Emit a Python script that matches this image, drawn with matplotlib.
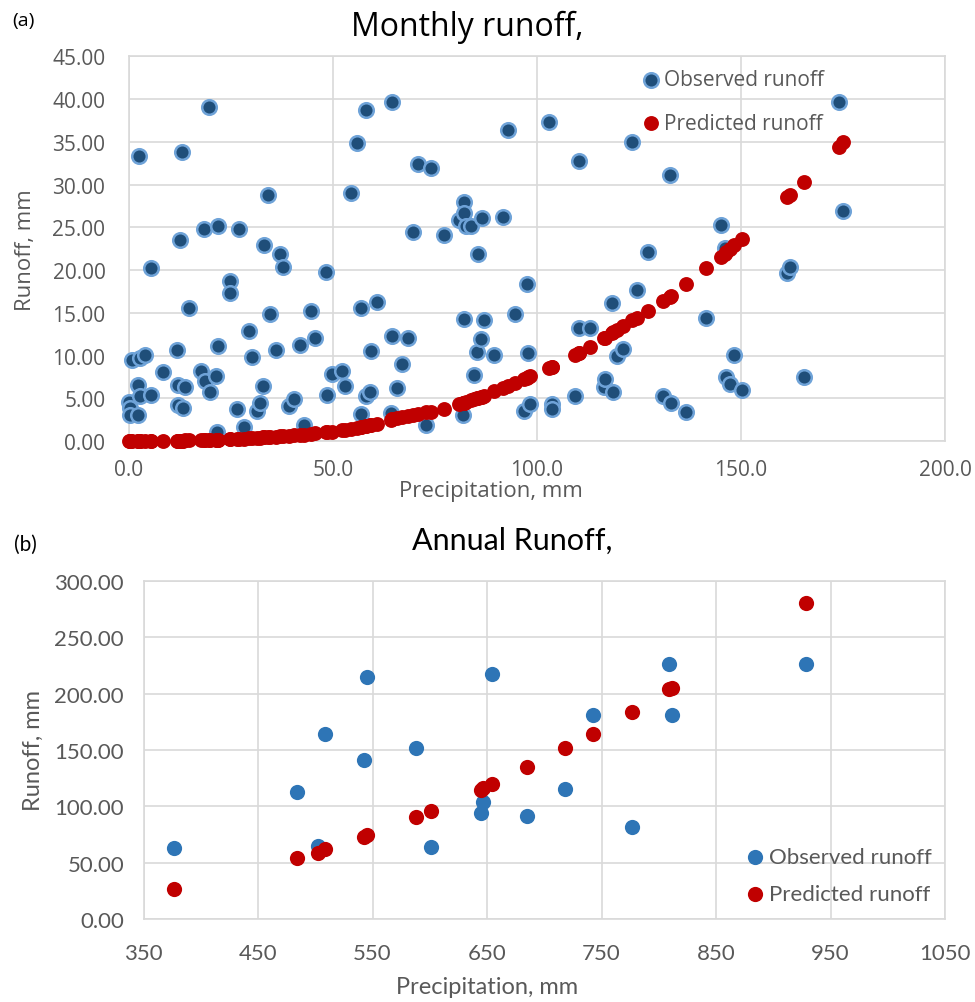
import matplotlib
matplotlib.use("Agg")
import matplotlib.pyplot as plt
from matplotlib import font_manager
from matplotlib.ticker import FormatStrFormatter, MultipleLocator

# ---------------- data ----------------
# Monthly values (precipitation, observed and model-predicted runoff), mm
monthly_precip = [
    0.0, 0.25, 0.25, 2.1, 0.8, 2.7, 3.9, 2.3, 2.7, 2.5,
    5.3, 5.4, 8.3, 11.8, 12.6, 13.1, 12.1, 13.8, 12.1, 13.3,
    14.8, 17.7, 18.7, 19.9, 21.4, 19.5, 18.5, 21.8, 21.9, 21.5,
    24.8, 24.8, 27.0, 26.5, 28.1, 29.3, 30.1, 31.4, 32.2, 32.8,
    33.2, 34.1, 34.6, 36.1, 37.1, 37.8, 39.3, 40.4, 42.0, 42.8,
    44.5, 45.5, 48.2, 48.6, 49.8, 52.3, 52.9, 54.4, 55.8, 56.8,
    56.9, 58.0, 58.0, 59.0, 59.3, 60.7, 64.5, 64.5, 64.3, 65.8,
    66.8, 68.5, 69.5, 70.8, 72.9, 74.0, 77.1, 80.8, 81.8, 82.0,
    82.0, 82.0, 82.6, 83.8, 84.6, 85.3, 85.6, 86.2, 86.5, 87.1,
    89.4, 91.6, 93.0, 94.6, 96.7, 97.5, 97.9, 98.4, 103.0, 103.6,
    103.6, 109.2, 110.2, 110.2, 113.0, 116.3, 116.7, 118.4, 118.7, 119.7,
    121.2, 123.3, 124.5, 127.2, 130.9, 132.6, 132.8, 136.4, 141.4, 145.0,
    146.0, 146.4, 147.3, 148.2, 150.3, 161.3, 162.1, 165.5, 173.9, 175.1,
]
monthly_observed = [
    4.6, 3.9, 3.0, 3.0, 9.5, 9.7, 10.1, 6.5, 5.3, 33.3,
    20.2, 5.4, 8.1, 10.7, 23.5, 33.8, 6.5, 6.3, 4.25, 3.9,
    15.6, 8.2, 7.05, 5.7, 7.6, 39.1, 24.8, 25.1, 11.1, 1.0,
    18.7, 17.3, 24.8, 3.7, 1.6, 12.9, 9.8, 3.5, 4.4, 6.4,
    22.9, 28.8, 14.9, 10.7, 21.9, 20.4, 4.1, 4.9, 11.2, 1.9,
    15.2, 12.1, 19.8, 5.4, 7.8, 8.2, 6.4, 29.0, 34.8, 15.5,
    3.1, 38.7, 5.3, 5.7, 10.5, 16.3, 39.7, 12.3, 3.3, 6.2,
    9.0, 12.1, 24.5, 32.4, 1.9, 31.9, 24.1, 25.9, 3.0, 28.0,
    26.7, 14.3, 25.1, 25.2, 7.75, 10.4, 21.9, 11.9, 26.1, 14.1,
    10.1, 26.2, 36.4, 14.9, 3.5, 18.4, 10.3, 4.3, 37.3, 4.3,
    3.7, 5.3, 32.7, 13.2, 13.2, 6.3, 7.25, 16.2, 5.7, 10.0,
    10.8, 35.0, 17.7, 22.1, 5.3, 31.1, 4.4, 3.4, 14.4, 25.3,
    22.6, 7.5, 6.7, 10.1, 6.0, 19.7, 20.3, 7.5, 39.7, 26.9,
]
monthly_predicted = [
    0.00, 0.00, 0.00, 0.00, 0.00, 0.00, 0.00, 0.00, 0.00, 0.00,
    0.01, 0.01, 0.02, 0.04, 0.05, 0.05, 0.04, 0.06, 0.04, 0.05,
    0.07, 0.10, 0.11, 0.13, 0.15, 0.12, 0.11, 0.16, 0.16, 0.15,
    0.22, 0.22, 0.27, 0.26, 0.29, 0.32, 0.35, 0.38, 0.40, 0.42,
    0.43, 0.46, 0.48, 0.52, 0.55, 0.57, 0.62, 0.66, 0.73, 0.76,
    0.83, 0.88, 1.02, 1.04, 1.11, 1.28, 1.32, 1.43, 1.55, 1.63,
    1.64, 1.75, 1.75, 1.85, 1.88, 2.04, 2.52, 2.52, 2.50, 2.65,
    2.75, 2.90, 3.00, 3.10, 3.35, 3.45, 3.80, 4.30, 4.45, 4.48,
    4.48, 4.48, 4.58, 4.75, 4.90, 5.00, 5.05, 5.15, 5.20, 5.30,
    5.80, 6.20, 6.45, 6.75, 7.20, 7.40, 7.50, 7.60, 8.50, 8.65,
    8.65, 10.10, 10.35, 10.35, 11.00, 12.00, 12.10, 12.60, 12.70, 13.00,
    13.50, 14.10, 14.40, 15.20, 16.40, 16.90, 17.00, 18.40, 20.20, 21.50,
    21.90, 22.10, 22.50, 22.90, 23.60, 28.50, 28.80, 30.30, 34.40, 35.00,
]

# Annual values, mm
annual_precip = [
    376.8, 483.9, 502.3, 508.4, 542.4, 545.2, 588.2, 601.0, 644.5,
    646.8, 654.0, 684.7, 718.1, 742.7, 776.7, 809.0, 811.5, 929.0,
]
annual_observed = [
    62.6, 112.7, 65.0, 164.3, 141.0, 215.2, 152.2, 64.1, 93.9,
    103.5, 217.3, 91.5, 115.4, 181.5, 82.0, 226.2, 181.0, 226.2,
]
annual_predicted = [
    26.8, 53.7, 58.7, 61.7, 73.1, 74.6, 90.4, 96.3, 114.8,
    116.3, 120.2, 134.8, 152.1, 164.3, 183.7, 204.0, 205.0, 280.4,
]
annual_xticks = [350, 450, 550, 650, 750, 850, 950, 1050]

series_labels = ["Observed runoff", "Predicted runoff"]

# ---------------- styling ----------------
installed = {f.name for f in font_manager.fontManager.ttflist}
font_a = "Open Sans" if "Open Sans" in installed else "DejaVu Sans"
font_b = "Lato" if "Lato" in installed else "DejaVu Sans"
fam_a = [font_a, "DejaVu Sans"]
fam_b = [font_b, "DejaVu Sans"]

TEXT_GREY = "#595959"
GRID = "#d9d9d9"
OBS_DARK = "#1f4e79"
OBS_RING = "#6fa3d8"
OBS_B = "#2e75b6"
PRED = "#c00000"

W, H = 975, 1003
fig = plt.figure(figsize=(W / 100, H / 100), dpi=100)
fig.patch.set_facecolor("white")


def fx(px):
    return px / W


def fy(py):
    return 1 - py / H


def style_axes(ax, family, size, ypad, xpad):
    ax.set_facecolor("white")
    for sp in ax.spines.values():
        sp.set_color(GRID)
        sp.set_linewidth(1.2)
    ax.grid(True, color=GRID, linewidth=1.2, zorder=0)
    ax.set_axisbelow(True)
    ax.tick_params(axis="both", length=0, colors=TEXT_GREY, labelsize=size)
    ax.tick_params(axis="y", pad=ypad)
    ax.tick_params(axis="x", pad=xpad)
    for lab in ax.get_xticklabels() + ax.get_yticklabels():
        lab.set_family(family)


# ---------------- (a) monthly ----------------
ax1 = fig.add_axes([fx(129), fy(442), fx(945) - fx(129), fy(57.3) - fy(442)])
ax1.set_xlim(0, 200)
ax1.set_ylim(0, 45)
ax1.xaxis.set_major_locator(MultipleLocator(50))
ax1.yaxis.set_major_locator(MultipleLocator(5))
ax1.xaxis.set_major_formatter(FormatStrFormatter("%.1f"))
ax1.yaxis.set_major_formatter(FormatStrFormatter("%.2f"))

h_obs = ax1.scatter(monthly_precip, monthly_observed, s=110, c=OBS_DARK,
                    edgecolors=OBS_RING, linewidths=1.8, zorder=3,
                    label=series_labels[0])
h_pred = ax1.scatter(monthly_precip, monthly_predicted, s=115, c=PRED,
                     linewidths=0, zorder=4, label=series_labels[1])
style_axes(ax1, fam_a, 15, 17, 13)
for coll in (h_obs, h_pred):
    coll.set_clip_on(False)

leg1 = ax1.legend(handles=[h_obs, h_pred], loc="upper left",
                  bbox_to_anchor=(fx(643), fy(70)), bbox_transform=fig.transFigure,
                  frameon=False, handlelength=0.8, handletextpad=0.2,
                  labelspacing=1.1, borderpad=0, borderaxespad=0,
                  prop={"family": fam_a, "size": 15})
for t in leg1.get_texts():
    t.set_color(TEXT_GREY)

fig.text(fx(12), fy(21), "(a)", family=fam_a, size=14, color="black",
         ha="left", va="center")
fig.text(fx(467), fy(36), "Monthly runoff,", family=fam_a, size=23,
         color="black", ha="center", va="baseline")
fig.text(fx(25), fy(250), "Runoff, mm", family=fam_a, size=16,
         color=TEXT_GREY, rotation=90, ha="center", va="center")
fig.text(fx(491), fy(491), "Precipitation, mm", family=fam_a, size=16,
         color=TEXT_GREY, ha="center", va="center")

# ---------------- (b) annual ----------------
ax2 = fig.add_axes([fx(143.5), fy(920), fx(945) - fx(143.5), fy(582) - fy(920)])
ax2.set_xlim(350, 1050)
ax2.set_ylim(0, 300)
ax2.set_xticks(annual_xticks)
ax2.yaxis.set_major_locator(MultipleLocator(50))
ax2.xaxis.set_major_formatter(FormatStrFormatter("%d"))
ax2.yaxis.set_major_formatter(FormatStrFormatter("%.2f"))

b_obs = ax2.scatter(annual_precip, annual_observed, s=120, c=OBS_B,
                    linewidths=0, zorder=3, label=series_labels[0])
b_pred = ax2.scatter(annual_precip, annual_predicted, s=120, c=PRED,
                     linewidths=0, zorder=4, label=series_labels[1])
style_axes(ax2, fam_b, 16, 14, 17)

leg2 = ax2.legend(handles=[b_obs, b_pred], loc="upper left",
                  bbox_to_anchor=(fx(747), fy(848)), bbox_transform=fig.transFigure,
                  frameon=False, handlelength=0.7, handletextpad=0.3,
                  labelspacing=0.75, borderpad=0, borderaxespad=0,
                  prop={"family": fam_b, "size": 16})
for t in leg2.get_texts():
    t.set_color(TEXT_GREY)

fig.text(fx(14), fy(545), "(b)", family=fam_b, size=15, color="black",
         ha="left", va="center")
fig.text(fx(512), fy(550), "Annual Runoff,", family=fam_b, size=22,
         color="black", ha="center", va="baseline")
fig.text(fx(33), fy(751), "Runoff, mm", family=fam_b, size=17,
         color=TEXT_GREY, rotation=90, ha="center", va="center")
fig.text(fx(487), fy(988), "Precipitation, mm", family=fam_b, size=17,
         color=TEXT_GREY, ha="center", va="center")

fig.savefig("out.png", dpi=100, facecolor="white")
